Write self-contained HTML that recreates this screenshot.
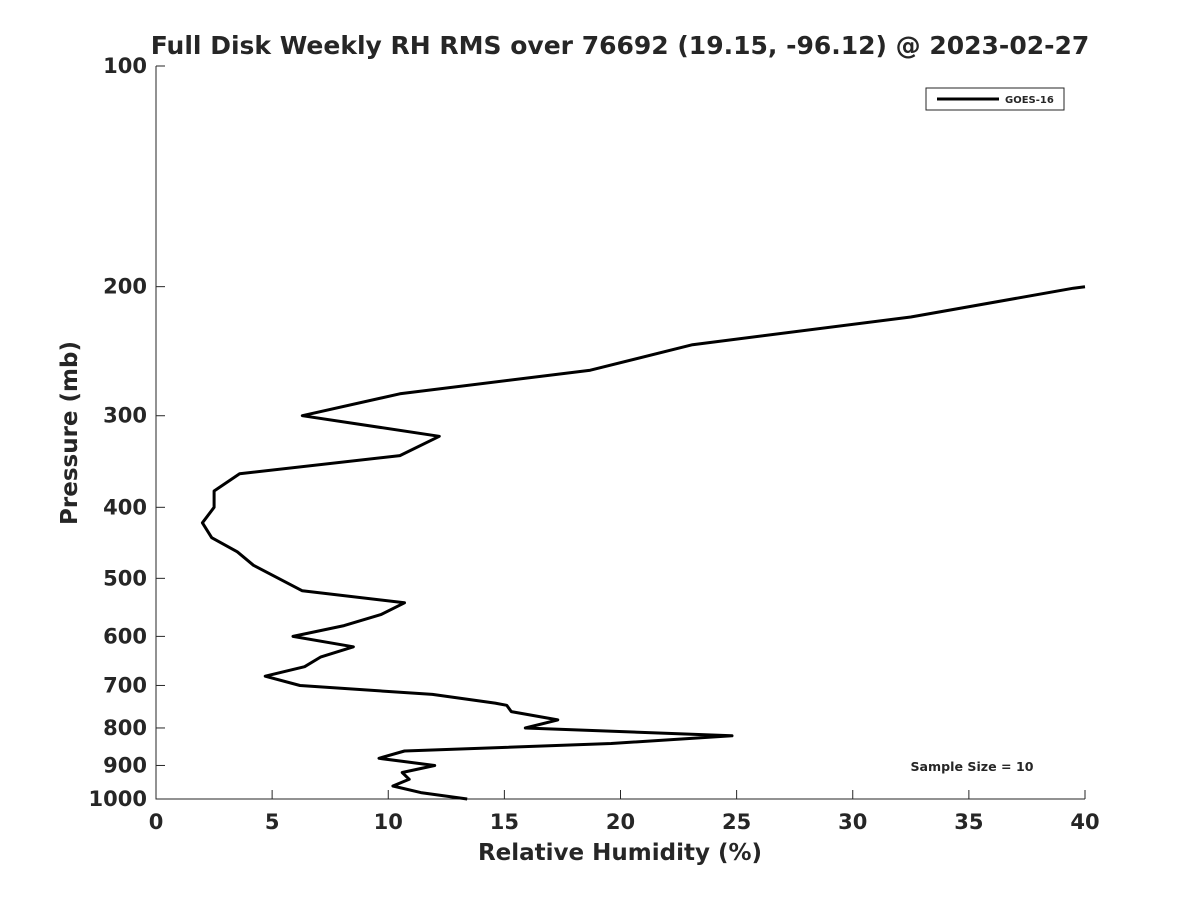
<!DOCTYPE html>
<html><head><meta charset="utf-8"><style>
body{margin:0;background:#fff;}
svg text{font-family:"DejaVu Sans","Liberation Sans",sans-serif;font-weight:bold;fill:#262626;}
</style></head><body>
<svg id="chart" width="1200" height="900" viewBox="0 0 1200 900" xmlns="http://www.w3.org/2000/svg">
<rect width="1200" height="900" fill="#fff"/>
<text x="620" y="54" font-size="25" text-anchor="middle">Full Disk Weekly RH RMS over 76692 (19.15, -96.12) @ 2023-02-27</text>
<g id="axes"></g>
<text x="620" y="860" font-size="23" text-anchor="middle">Relative Humidity (%)</text>
<text transform="translate(77,433) rotate(-90)" font-size="23" text-anchor="middle">Pressure (mb)</text>
<g>
<rect x="926" y="88" width="138" height="22" fill="#fff" stroke="#262626" stroke-width="1"/>
<line x1="937" y1="99" x2="999" y2="99" stroke="#000" stroke-width="3"/>
<text x="1005" y="103" font-size="10">GOES-16</text>
</g>
<text x="972" y="771" font-size="12.6" text-anchor="middle">Sample Size = 10</text>
</svg>
<script>
const pressures=[200,201,220,240,260,280,300,320,340,360,380,400,420,440,460,480,520,540,560,580,600,620,640,660,680,700,720,740,745,760,780,800,820,840,860,880,900,920,940,960,980,1000];
const rhValues=[40,39.5,32.5,23.1,18.7,10.5,6.3,12.2,10.5,3.6,2.5,2.5,2.0,2.4,3.5,4.2,6.3,10.7,9.7,8.1,5.9,8.5,7.1,6.4,4.7,6.2,11.9,14.6,15.1,15.3,17.3,15.9,24.8,19.6,10.7,9.6,12.0,10.6,10.9,10.2,11.4,13.4];
const xTicks=[0,5,10,15,20,25,30,35,40];
const yTicks=[100,200,300,400,500,600,700,800,900,1000];
const X0=156,X1=1085,Y0=66,Y1=799;
const xs=v=>X0+(v/40)*(X1-X0);
const ys=p=>Y0+(Math.log10(p)-2)*(Y1-Y0);
const NS="http://www.w3.org/2000/svg";
const g=document.getElementById('axes');
function mk(t,a){const e=document.createElementNS(NS,t);for(const k in a)e.setAttribute(k,a[k]);return e;}
const ax=mk('path',{d:`M${X0},${Y0}V${Y1}H${X1}`,fill:'none',stroke:'#262626','stroke-width':1});


g.appendChild(ax);
xTicks.forEach(v=>{
const l=mk('line',{x1:xs(v),x2:xs(v),y1:Y1,y2:Y1-9,stroke:'#262626'});


g.appendChild(l);
const t=mk('text',{x:xs(v),y:Y1+30,'font-size':21,'text-anchor':'middle'});


t.textContent=v;g.appendChild(t);
});
yTicks.forEach(p=>{
const l=mk('line',{x1:X0,x2:X0+9,y1:ys(p),y2:ys(p),stroke:'#262626'});


g.appendChild(l);
const t=mk('text',{x:X0-9,y:ys(p)+7,'font-size':21,'text-anchor':'end'});


t.textContent=p;g.appendChild(t);
});
const pts=rhValues.map((v,i)=>xs(v).toFixed(1)+','+ys(pressures[i]).toFixed(1)).join(' ');
const line=mk('polyline',{points:pts,fill:'none',stroke:'#000','stroke-width':3,'stroke-linejoin':'round'});


g.appendChild(line);
</script>
</body></html>
